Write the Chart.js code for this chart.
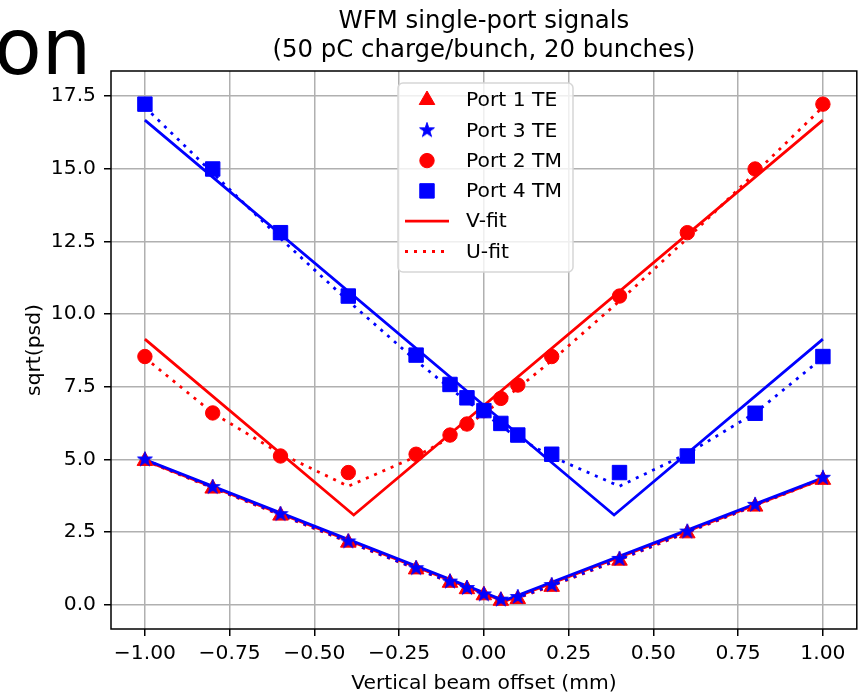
<!DOCTYPE html>
<html>
<head>
<meta charset="utf-8">
<script src="https://cdn.jsdelivr.net/npm/chart.js@4.4.0/dist/chart.umd.min.js"></script>
<style>
  html, body { margin: 0; padding: 0; background: #fff; }
  #wrap { position: relative; width: 868px; height: 695px; overflow: hidden; }
  #myChart { position: absolute; left: 0; top: 0; }
  #corner { position: absolute; left: -6px; top: 8px; font: 78px/1 "DejaVu Sans", sans-serif; color: #000; white-space: nowrap; }
</style>
</head>
<body>
<div id="wrap">
  <canvas id="myChart" width="868" height="695"></canvas>
  <div id="corner">on</div>
</div>
<script>
// Data

const offsets = [-1, -0.8, -0.6, -0.4, -0.2, -0.1, -0.05, 0, 0.05, 0.1, 0.2, 0.4, 0.6, 0.8, 1];

const port1TE = [4.95, 4.0, 3.07, 2.14, 1.22, 0.76, 0.54, 0.33, 0.14, 0.2, 0.62, 1.52, 2.46, 3.38, 4.3];
const port3TE = [5.0, 4.05, 3.12, 2.18, 1.26, 0.8, 0.58, 0.36, 0.18, 0.27, 0.68, 1.58, 2.52, 3.44, 4.37];
const port2TM = [8.54, 6.6, 5.12, 4.55, 5.18, 5.84, 6.22, 6.68, 7.1, 7.56, 8.54, 10.62, 12.8, 14.99, 17.22];
const port4TM = [17.22, 14.99, 12.8, 10.62, 8.59, 7.58, 7.12, 6.68, 6.24, 5.84, 5.18, 4.55, 5.12, 6.59, 8.54];

// U-fit curves at the measured offsets
const port1UFit = [4.96, 4.02, 3.09, 2.16, 1.24, 0.78, 0.56, 0.34, 0.16, 0.23, 0.65, 1.55, 2.49, 3.41, 4.33];
const port3UFit = [4.99, 4.04, 3.11, 2.17, 1.25, 0.79, 0.57, 0.35, 0.17, 0.25, 0.67, 1.57, 2.51, 3.43, 4.36];
const port2UFit = [8.5, 6.6, 5.2, 4.08, 5.1, 5.75, 6.15, 6.6, 7.0, 7.45, 8.4, 10.45, 12.6, 14.85, 17.12];
const port4UFit = [17.12, 14.85, 12.6, 10.45, 8.4, 7.45, 7.0, 6.6, 6.15, 5.75, 5.1, 4.08, 5.2, 6.6, 8.5];

// V-fit lines (ends and vertex)
const vfitTE_x = [-1, 0.06, 1];
const vfitPort1 = [4.97, 0.12, 4.33];
const vfitPort3 = [5.0, 0.15, 4.37];
const vfitPort2_x = [-1, -0.384, 1];
const vfitPort2 = [9.14, 3.09, 16.67];
const vfitPort4_x = [-1, 0.384, 1];
const vfitPort4 = [16.67, 3.09, 9.14];

const xTicks = [-1, -0.75, -0.5, -0.25, 0, 0.25, 0.5, 0.75, 1];
const yTicks = [0, 2.5, 5, 7.5, 10, 12.5, 15, 17.5];

const legendLabels = ['Port 1 TE', 'Port 3 TE', 'Port 2 TM', 'Port 4 TM', 'V-fit', 'U-fit'];
const titleLines = ['WFM single-port signals', '(50 pC charge/bunch, 20 bunches)'];

const FONT = '"DejaVu Sans", sans-serif';
const RED = '#ff0000';
const BLUE = '#0000ff';

const pts = (xs, ys) => xs.map((x, i) => ({ x: x, y: ys[i] }));

const fmt = (v, d) => (v < 0 ? '\u2212' + Math.abs(v).toFixed(d) : v.toFixed(d));

// filled five point star, like matplotlib '*'
function makeStar(color, R) {
    const s = Math.ceil(R * 2) + 2;
    const c = document.createElement('canvas');
    c.width = s;
    c.height = s;
    const g = c.getContext('2d');
    g.beginPath();
    for (let i = 0; i < 10; i++) {
        const r = i % 2 ? R * 0.382 : R;
        const a = -Math.PI / 2 + i * Math.PI / 5;
        g.lineTo(s / 2 + r * Math.cos(a), s / 2 + r * Math.sin(a));
    }
    g.closePath();
    g.fillStyle = color;
    g.fill();
    g.lineWidth = 1;
    g.strokeStyle = color;
    g.stroke();
    return c;
}

const starImg = makeStar(BLUE, 7.8);

const fitLine = (label, xs, ys, color, dotted, order) => ({
    label: label,
    data: pts(xs, ys),
    showLine: true,
    borderColor: color,
    backgroundColor: color,
    borderWidth: 2.8,
    borderDash: dotted ? [3, 6] : [],
    pointRadius: 0,
    pointHoverRadius: 0,
    order: order
});

const markers = (label, ys, color, style, radius, order) => ({
    label: label,
    data: pts(offsets, ys),
    showLine: false,
    pointStyle: style,
    pointRadius: radius,
    pointHoverRadius: radius,
    backgroundColor: color,
    borderColor: color,
    borderWidth: 1,
    order: order
});

const datasets = [
    markers('Port 3 TE', port3TE, BLUE, starImg, 7.8, 1),
    markers('Port 1 TE', port1TE, RED, 'triangle', 9, 2),
    markers('Port 4 TM', port4TM, BLUE, 'rect', 10.2, 3),
    markers('Port 2 TM', port2TM, RED, 'circle', 7.2, 4),
    fitLine('U-fit 4', offsets, port4UFit, BLUE, true, 5),
    fitLine('V-fit 4', vfitPort4_x, vfitPort4, BLUE, false, 6),
    fitLine('U-fit 3', offsets, port3UFit, BLUE, true, 7),
    fitLine('V-fit 3', vfitTE_x, vfitPort3, BLUE, false, 8),
    fitLine('U-fit 2', offsets, port2UFit, RED, true, 9),
    fitLine('V-fit 2', vfitPort2_x, vfitPort2, RED, false, 10),
    fitLine('U-fit 1', offsets, port1UFit, RED, true, 11),
    fitLine('V-fit 1', vfitTE_x, vfitPort1, RED, false, 12)
];

// frame, title and the legend inside the axes
const decorations = {
    id: 'decorations',
    afterDatasetsDraw(chart) {
        const { ctx, chartArea: a } = chart;
        ctx.save();
        ctx.strokeStyle = '#000';
        ctx.lineWidth = 1.5;
        ctx.strokeRect(a.left, a.top, a.right - a.left, a.bottom - a.top);
        ctx.restore();
    },
    afterDraw(chart) {
        const { ctx, chartArea: a } = chart;
        const cx = (a.left + a.right) / 2;
        ctx.save();

        ctx.fillStyle = '#000';
        ctx.font = '24.4px ' + FONT;
        ctx.textAlign = 'center';
        ctx.textBaseline = 'alphabetic';
        ctx.fillText(titleLines[0], cx, 28);
        ctx.fillText(titleLines[1], cx, 57);

        // legend box
        const bx = 398, by = 83, bw = 175, bh = 189, r = 5;
        ctx.beginPath();
        ctx.moveTo(bx + r, by);
        ctx.arcTo(bx + bw, by, bx + bw, by + bh, r);
        ctx.arcTo(bx + bw, by + bh, bx, by + bh, r);
        ctx.arcTo(bx, by + bh, bx, by, r);
        ctx.arcTo(bx, by, bx + bw, by, r);
        ctx.closePath();
        ctx.fillStyle = 'rgba(255,255,255,0.8)';
        ctx.fill();
        ctx.strokeStyle = '#d6d6d6';
        ctx.lineWidth = 1.5;
        ctx.stroke();

        const rowY = [100, 130.3, 160.6, 190.9, 221.2, 251.5];
        const mx = 427;
        const styles = [
            { pointStyle: 'triangle', radius: 9, color: RED },
            { pointStyle: starImg, radius: 7.8, color: BLUE },
            { pointStyle: 'circle', radius: 7.2, color: RED },
            { pointStyle: 'rect', radius: 10.2, color: BLUE }
        ];
        styles.forEach((s, i) => {
            ctx.fillStyle = s.color;
            ctx.strokeStyle = s.color;
            ctx.lineWidth = 1;
            Chart.helpers.drawPoint(ctx, { pointStyle: s.pointStyle, radius: s.radius, rotation: 0, borderWidth: 1 }, mx, rowY[i]);
        });

        ctx.strokeStyle = RED;
        ctx.lineWidth = 2.8;
        ctx.setLineDash([]);
        ctx.beginPath();
        ctx.moveTo(405, rowY[4]);
        ctx.lineTo(449, rowY[4]);
        ctx.stroke();
        ctx.setLineDash([3, 6]);
        ctx.beginPath();
        ctx.moveTo(405, rowY[5]);
        ctx.lineTo(449, rowY[5]);
        ctx.stroke();
        ctx.setLineDash([]);

        ctx.fillStyle = '#000';
        ctx.font = '20.3px ' + FONT;
        ctx.textAlign = 'left';
        ctx.textBaseline = 'middle';
        legendLabels.forEach((t, i) => ctx.fillText(t, 466, rowY[i] + 1));

        ctx.restore();
    }
};

const tickFont = { family: FONT, size: 20.3 };

const config = {
    type: 'scatter',
    data: { datasets: datasets },
    options: {
        responsive: false,
        animation: false,
        events: [],
        layout: { padding: { left: 0, top: 71, right: 9, bottom: 0 } },
        plugins: {
            legend: { display: false },
            title: { display: false },
            tooltip: { enabled: false }
        },
        scales: {
            x: {
                type: 'linear',
                min: -1.1,
                max: 1.1,
                afterBuildTicks: (s) => { s.ticks = xTicks.map(v => ({ value: v })); },
                afterFit: (s) => { s.height = 66; },
                border: { display: false },
                grid: { color: '#b0b0b0', lineWidth: 1.5, tickColor: '#000', tickWidth: 1.5, tickLength: 7 },
                ticks: {
                    color: '#000', font: tickFont, padding: 6, maxRotation: 0, autoSkip: false,
                    callback: (v) => fmt(v, 2)
                },
                title: {
                    display: true, text: 'Vertical beam offset (mm)', color: '#000',
                    font: tickFont, padding: { top: 0, bottom: -1 }
                }
            },
            y: {
                type: 'linear',
                min: -0.83,
                max: 18.36,
                afterBuildTicks: (s) => { s.ticks = yTicks.map(v => ({ value: v })); },
                afterFit: (s) => { s.width = 111; },
                border: { display: false },
                grid: { color: '#b0b0b0', lineWidth: 1.5, tickColor: '#000', tickWidth: 1.5, tickLength: 7 },
                ticks: {
                    color: '#000', font: tickFont, padding: 8, autoSkip: false,
                    callback: (v) => fmt(v, 1)
                },
                title: {
                    display: true, text: 'sqrt(psd)', color: '#000',
                    font: tickFont, padding: { top: 23, bottom: 0 }
                }
            }
        }
    },
    plugins: [decorations]
};

const myChart = new Chart(document.getElementById('myChart'), config);
</script>
</body>
</html>
